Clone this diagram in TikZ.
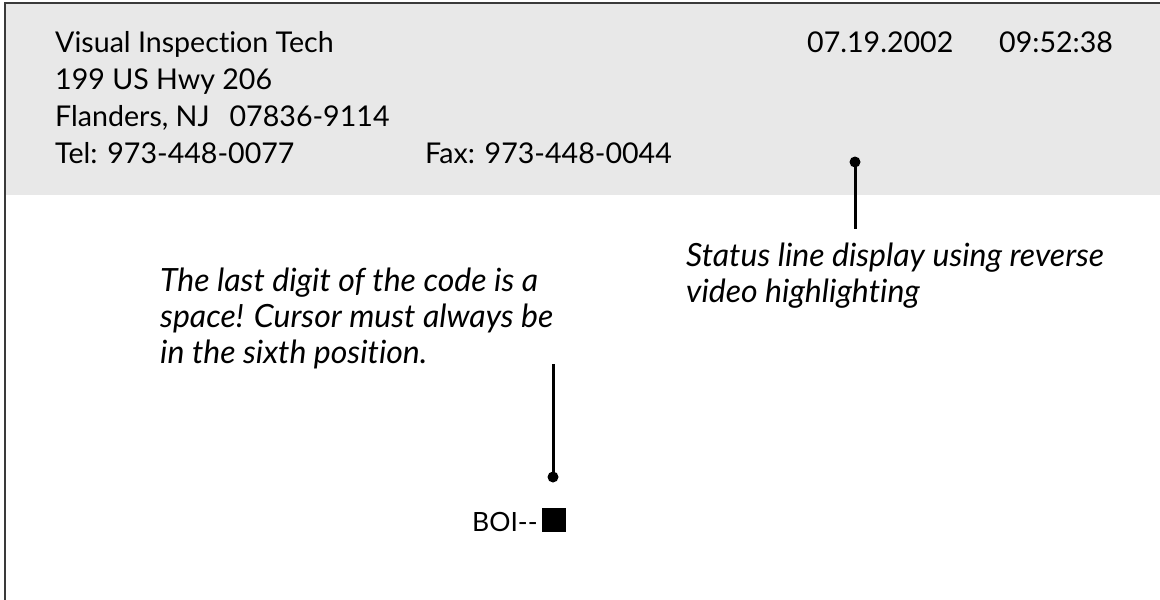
\documentclass[tikz,border=0pt]{standalone}
\usepackage{fontspec}
\setmainfont{Lato}[Ligatures={TeX,NoCommon}]
\definecolor{band}{HTML}{E8E8E8}
\definecolor{frame}{HTML}{3A3A3A}
\tikzset{
  txt/.style={anchor=base west, inner sep=0pt, font=\fontsize{28.6}{34}\selectfont},
  itxt/.style={anchor=base west, inner sep=0pt, font=\fontsize{32}{38}\selectfont\itshape},
  lead/.style={line width=3pt},
  dot/.style={circle, fill=black, inner sep=0pt, minimum size=11pt}
}
\begin{document}
\begin{tikzpicture}[x=1pt,y=-1pt]
\useasboundingbox (0,0) rectangle (1160,600);
\fill[band] (5,3) rectangle (1160,195);
\draw[frame, line width=2pt] (5,600) -- (5,3) -- (1160,3);
% header text
\node[txt] (l1) at (55,52) {Visual Inspection Tech};
\node[txt] (l2) at (55,89) {199 US Hwy 206};
\node[txt] (l3) at (55,126) {Flanders, NJ\hspace{0.7em}07836-9114};
\node[txt] (l4) at (55,163) {Tel: 973-448-0077};
\node[txt] (fax) at (425,163) {Fax: 973-448-0044};
\node[txt] (date) at (807,52) {07.19.2002};
\node[txt] (time) at (999,52) {09:52:38};
% status note
\node[dot] (d1) at (855,162) {};
\coordinate (e1) at (855,229);
\draw[lead] (d1.center) -- (e1);
\node[itxt] (s1) at (686,266) {Status line display using reverse};
\node[itxt] (s2) at (686,302) {video highlighting};
% cursor note
\node[itxt] (c1) at (160,291) {The last digit of the code is a};
\node[itxt] (c2) at (160,327) {space! Cursor must always be};
\node[itxt] (c3) at (160,363) {in the sixth position.};
\coordinate (e2) at (553,364);
\node[dot] (d2) at (553,477) {};
\draw[lead] (e2) -- (d2.center);
\node[txt, font=\fontsize{26.5}{32}\selectfont] (boi) at (472,531) {BOI{-}{-}};
\node[fill=black, inner sep=0pt, minimum size=24pt] (cur) at (554,520) {};
\end{tikzpicture}
\end{document}
